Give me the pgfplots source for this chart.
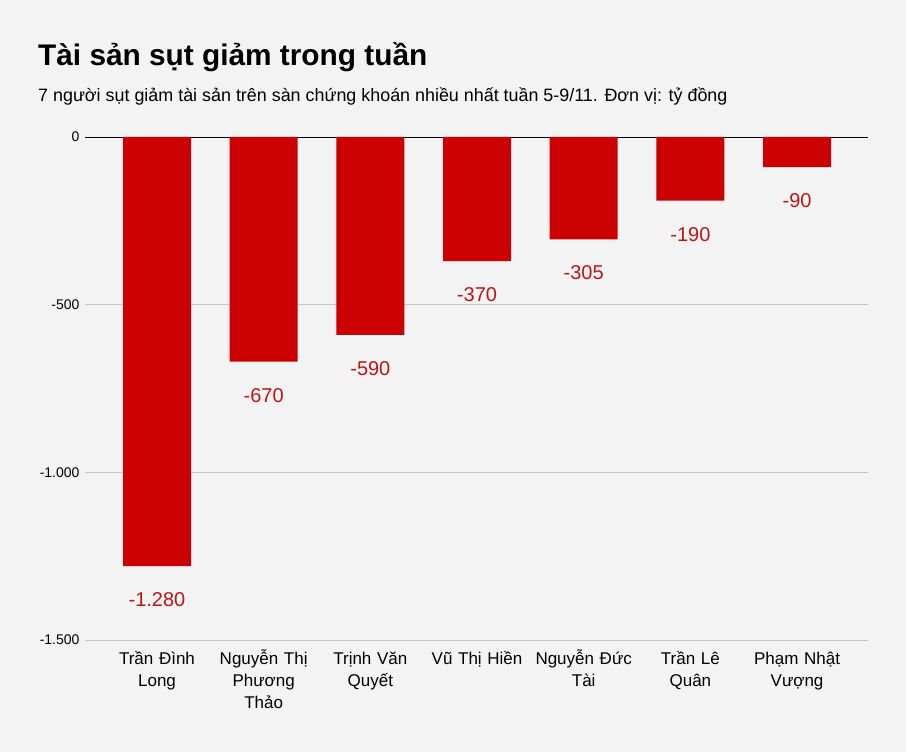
\documentclass[border=0pt]{standalone}
\usepackage{fontspec}
\setmainfont{Liberation Sans}
\usepackage{pgfplots}
\pgfplotsset{compat=1.18}
\definecolor{bgcol}{HTML}{F3F3F3}
\definecolor{barred}{HTML}{CC0000}
\definecolor{labred}{HTML}{BE1414}
\definecolor{gridgray}{HTML}{C4C4C4}
\begin{document}
\begin{tikzpicture}[x=1pt,y=1pt]
\fill[bgcol] (0,0) rectangle (906,752);
\node[anchor=base west, inner sep=0, font=\fontsize{29.8}{34}\selectfont\bfseries] at (38,686) {Tài sản sụt giảm trong tuần};
\node[anchor=base west, inner sep=0, font=\fontsize{17.9}{22}\selectfont] at (38,650) {7 người sụt giảm tài sản trên sàn chứng khoán nhiều nhất tuần 5-9/11. Đơn vị: tỷ đồng};
\begin{axis}[
  at={(85pt,112pt)}, anchor=south west,
  scale only axis, width=783pt, height=503pt,
  xmin=-0.675, xmax=6.665, ymin=-1500, ymax=0,
  ybar, bar width=68pt, bar shift=0pt,
  axis line style={draw=none},
  major tick length=0pt,
  ytick={-1500,-1000,-500}, yticklabels={-1.500,-1.000,-500},
  extra y ticks={0}, extra y tick labels={0},
  extra y tick style={grid style={black, line width=0.9pt}},
  ymajorgrids, grid style={gridgray, line width=0.9pt},
  yticklabel style={font=\fontsize{14}{16}\selectfont, xshift=-2pt},
  xtick={0,...,6},
  xticklabels={{\rule{0pt}{17pt}Trần Đình\\Long},{\rule{0pt}{17pt}Nguyễn Thị\\Phương\\Thảo},{\rule{0pt}{17pt}Trịnh Văn\\Quyết},{\rule{0pt}{17pt}Vũ Thị Hiền},{\rule{0pt}{17pt}Nguyễn Đức\\Tài},{\rule{0pt}{17pt}Trần Lê\\Quân},{\rule{0pt}{17pt}Phạm Nhật\\Vượng}},
  xticklabel style={font=\fontsize{17}{22}\selectfont, align=center, text width=110pt, anchor=north, yshift=-4pt},
  point meta=explicit symbolic,
  nodes near coords,
  every node near coord/.append style={font=\fontsize{20}{24}\selectfont, text=labred, anchor=north, yshift=-23pt},
]
\addplot[fill=barred, draw=none] coordinates {
  (0,-1280) [-1.280]
  (1,-670) [-670]
  (2,-590) [-590]
  (3,-370) [-370]
  (4,-305) [-305]
  (5,-190) [-190]
  (6,-90) [-90]
};
\end{axis}
\end{tikzpicture}
\end{document}
